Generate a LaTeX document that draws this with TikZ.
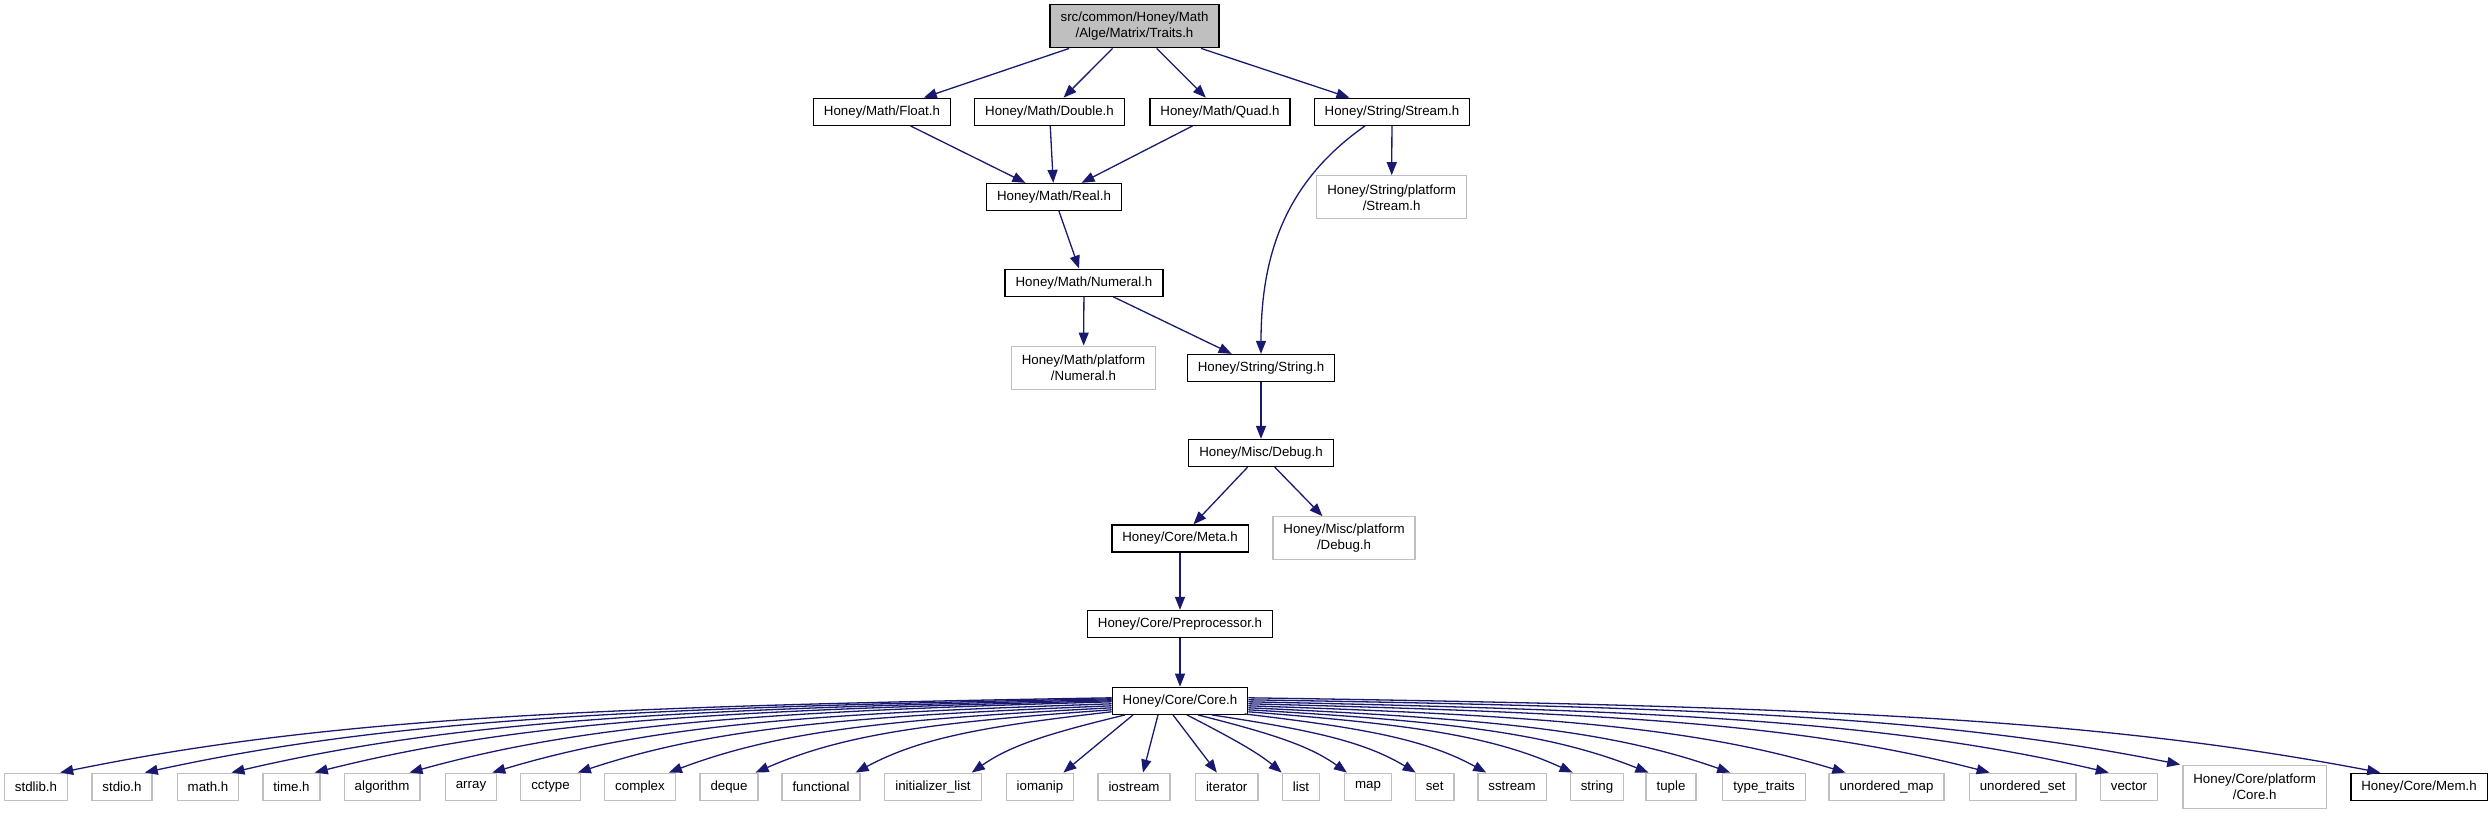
\documentclass[tikz,border=0pt]{standalone}
\usepackage{fontspec}
\setmainfont{Liberation Sans}
\usetikzlibrary{arrows.meta,calc}
\definecolor{inclblue}{RGB}{25,25,112}
\definecolor{undocgray}{RGB}{191,191,191}

\begin{document}
\begin{tikzpicture}[x=1pt,y=1pt,
    hdr/.style={draw=black,line width=1.3pt,fill=white,align=center,inner xsep=10.5pt,inner ysep=2pt,
      minimum height=27pt,font=\fontsize{13.3}{16}\selectfont},
    sys/.style={hdr,draw=undocgray},
    incl/.style={draw=inclblue,line width=1.3pt,-{Triangle[length=13pt,width=10pt]}}]
    \useasboundingbox (0,0) rectangle (2492,-816);
    \node[hdr,fill=undocgray,minimum height=43pt] (traits) at (1134.5,-26.3) {src/common/Honey/Math\\/Alge/Matrix/Traits.h};
    \node[hdr] (float) at (882,-111.8) {Honey/Math/Float.h};
    \node[hdr] (double) at (1049.5,-111.8) {Honey/Math/Double.h};
    \node[hdr] (quad) at (1220,-111.8) {Honey/Math/Quad.h};
    \node[hdr] (sstream) at (1392,-111.8) {Honey/String/Stream.h};
    \node[hdr] (real) at (1054,-197) {Honey/Math/Real.h};
    \node[sys,minimum height=43pt] (pstream) at (1391.6,-197.3) {Honey/String/platform\\/Stream.h};
    \node[hdr] (numeral) at (1084,-282.7) {Honey/Math/Numeral.h};
    \node[sys,minimum height=43pt] (pnumeral) at (1083.5,-367.7) {Honey/Math/platform\\/Numeral.h};
    \node[hdr] (sstring) at (1261,-368) {Honey/String/String.h};
    \node[hdr] (debug) at (1261,-453) {Honey/Misc/Debug.h};
    \node[sys,minimum height=43pt] (pdebug) at (1344,-538.3) {Honey/Misc/platform\\/Debug.h};
    \node[hdr] (meta) at (1180,-538.5) {Honey/Core/Meta.h};
    \node[hdr] (prep) at (1180,-624) {Honey/Core/Preprocessor.h};
    \node[hdr] (core) at (1180,-700.8) {Honey/Core/Core.h};
    \foreach \h/\x/\t in {stdlib/36/stdlib.h,stdio/122/stdio.h,math/208/math.h,time/291.5/time.h,
        algorithm/382/algorithm,array/471/array,cctype/550.5/cctype,complex/640/complex,deque/729/deque,
        functional/821/functional,initlist/933/initializer\_list,iomanip/1040/iomanip,iostream/1134/iostream,
        iterator/1226.7/iterator,list/1301/list,map/1368/map,set/1434.7/set,sstr/1512/sstream,
        string/1597/string,tuple/1671/tuple,typetraits/1764/type\_traits,umap/1886.5/unordered\_map,
        uset/2022.7/unordered\_set,vector/2129/vector}
      \node[sys] (\h) at (\x,-786.7) {\t};
    \node[sys,minimum height=43pt] (pcore) at (2254.7,-786.7) {Honey/Core/platform\\/Core.h};
    \node[hdr] (mem) at (2419,-786.7) {Honey/Core/Mem.h};

    \draw[incl] (traits) -- (float);
    \draw[incl] (traits) -- (double);
    \draw[incl] (traits) -- (quad);
    \draw[incl] (traits) -- (sstream);
    \draw[incl] (float) -- (real);
    \draw[incl] (double) -- (real);
    \draw[incl] (quad) -- (real);
    \draw[incl] (sstream) -- (pstream);
    \draw[incl] ([xshift=-27pt]sstream.south) to[out=215,in=90] (sstring.north);
    \draw[incl] (real) -- (numeral);
    \draw[incl] (numeral) -- (pnumeral);
    \draw[incl] (numeral) -- (sstring);
    \draw[incl] (sstring) -- (debug);
    \draw[incl] (debug) -- (meta);
    \draw[incl] (debug) -- (pdebug);
    \draw[incl] (meta) -- (prep);
    \draw[incl] (prep) -- (core);
    \foreach \h/\a/\sx/\sy/\b/\ex in {stdlib/west/0/3/north east/-8,stdio/west/0/2/north east/-8,
        math/west/0/1/north east/-8,time/west/0/0/north east/-6,algorithm/west/0/-1/north east/-11,
        array/west/0/-3/north east/-5,cctype/west/0/-5/north east/-3,complex/west/0/-7/north east/-7,
        deque/west/0/-9/north east/-3,functional/west/0/-11/north east/-5,initlist/south/-55/0/north east/-10,
        iomanip/south/-47/0/north east/-11,iostream/south/-22/0/north/9,iterator/south/-7/0/north west/22,
        list/south/7/0/north west/0,map/south/18/0/north west/3,set/south/32/0/north west/1,
        sstr/south east/-4/1/north west/9,string/east/0/-11/north west/3,tuple/east/0/-9/north west/3,
        typetraits/east/0/-7/north west/8,umap/east/0/-5/north west/17,uset/east/0/-3/north west/21,
        vector/east/0/-1/north west/9,pcore/east/0/1/north west/-2,mem/east/0/3/north west/30}
      \draw[incl] let \p1=($(core.\a)+(\sx,\sy)$), \p2=($(\h.\b)+(\ex,0)$),
          \n1={abs(\y2-\y1)/(abs(\y2-\y1)+abs(\x2-\x1))}, \n2={min(1,2.2*\n1)} in
        (\p1) .. controls ({\x1+0.5*(\x2-\x1)},{\y1+(0.05+0.45*\n2)*(\y2-\y1)})
        and ({\x2-0.25*(\x2-\x1)},{\y2-(0.8-0.55*\n2)*(\y2-\y1)}) .. (\p2);
  \end{tikzpicture}
\end{document}
